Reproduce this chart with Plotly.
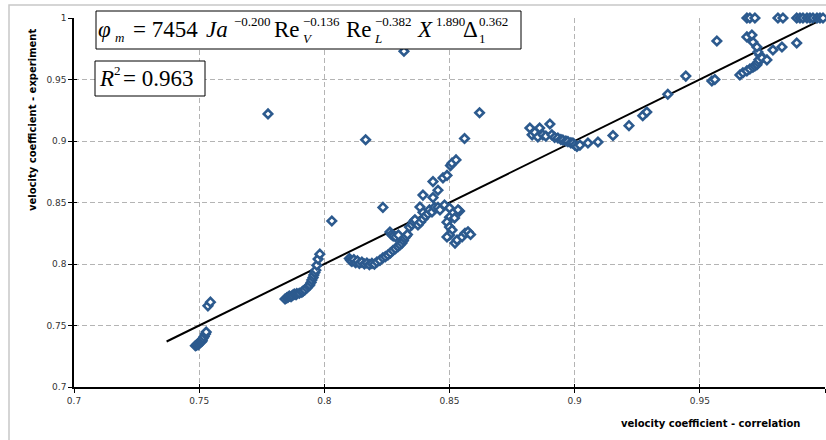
import plotly.graph_objects as go

# ---------------- data ----------------
x_corr = [
    # outliers
    0.7775, 0.8165, 0.8318, 0.8030, 0.8234,
    # cluster near 0.75
    0.7485, 0.7490, 0.7493, 0.7497, 0.7500, 0.7505, 0.7510, 0.7512, 0.7515, 0.7520, 0.7525, 0.7528, 0.7535, 0.7545,
    # lower curve 0.784-0.798
    0.7843, 0.7850, 0.7855, 0.7860, 0.7867, 0.7873, 0.7880, 0.7887, 0.7890, 0.7900, 0.7910, 0.7915, 0.7922,
    0.7930, 0.7937, 0.7942, 0.7947, 0.7950, 0.7955, 0.7958, 0.7962, 0.7966, 0.7970, 0.7975, 0.7982,
    # middle band 0.81-0.835
    0.8100, 0.8105, 0.8110, 0.8118, 0.8125, 0.8132, 0.8140, 0.8150, 0.8160, 0.8170, 0.8180, 0.8190, 0.8200,
    0.8210, 0.8222, 0.8234, 0.8244, 0.8254, 0.8264, 0.8274, 0.8284, 0.8294, 0.8302, 0.8310, 0.8316, 0.8320,
    0.8326, 0.8332,
    0.8262, 0.8268, 0.8275, 0.8285, 0.8296,
    # central cluster 0.834-0.86
    0.8340, 0.8350, 0.8356, 0.8362, 0.8374, 0.8384, 0.8394, 0.8394, 0.8404, 0.8414, 0.8382, 0.8394, 0.8420,
    0.8430, 0.8434, 0.8434, 0.8440, 0.8454, 0.8454, 0.8462, 0.8474, 0.8480, 0.8490, 0.8500, 0.8504, 0.8510,
    0.8526, 0.8540, 0.8534,
    0.8500, 0.8520, 0.8490, 0.8500, 0.8510, 0.8500, 0.8490, 0.8522, 0.8530, 0.8550, 0.8562, 0.8574, 0.8584,
    0.8560, 0.8620,
    # cluster 0.88-0.93
    0.8821, 0.8830, 0.8841, 0.8853, 0.8860, 0.8873, 0.8885, 0.8901, 0.8909, 0.8920, 0.8933, 0.8945, 0.8953,
    0.8965, 0.8973, 0.8985, 0.8993, 0.9001, 0.9009, 0.9021, 0.9053, 0.9093, 0.9153, 0.9217, 0.9272, 0.9288,
    # upper cluster 0.93-1.0
    0.9372, 0.9444, 0.9548, 0.9560, 0.9568,
    0.9660, 0.9672, 0.9688, 0.9700, 0.9712, 0.9720, 0.9728, 0.9732, 0.9736, 0.9740, 0.9748, 0.9732, 0.9728,
    0.9712, 0.9688, 0.9708, 0.9768, 0.9792, 0.9828, 0.9887,
    0.9688, 0.9700, 0.9720, 0.9812, 0.9832, 0.9887, 0.9900, 0.9912, 0.9928, 0.9940, 0.9952, 0.9968, 0.9980,
    0.9992,
]
y_exp = [
    0.922, 0.901, 0.973, 0.835, 0.846,
    0.7335, 0.7340, 0.7350, 0.7345, 0.7360, 0.7365, 0.7370, 0.7380, 0.7395, 0.7410, 0.7430, 0.7447, 0.7660, 0.7690,
    0.7715, 0.7725, 0.7730, 0.7740, 0.7735, 0.7745, 0.7755, 0.7750, 0.7760, 0.7762, 0.7770, 0.7780, 0.7790,
    0.7805, 0.7820, 0.7830, 0.7850, 0.7870, 0.7890, 0.7910, 0.7930, 0.7950, 0.7990, 0.8040, 0.8080,
    0.8045, 0.8030, 0.8020, 0.8035, 0.8010, 0.8025, 0.8005, 0.8015, 0.8000, 0.8008, 0.7995, 0.8005, 0.7998,
    0.8016, 0.8030, 0.8050, 0.8060, 0.8073, 0.8090, 0.8110, 0.8125, 0.8140, 0.8155, 0.8170, 0.8190, 0.8210,
    0.8225, 0.8240,
    0.8260, 0.8240, 0.8228, 0.8220, 0.8235,
    0.8300, 0.8320, 0.8345, 0.8360, 0.8317, 0.8340, 0.8366, 0.8420, 0.8390, 0.8410, 0.8463, 0.8560, 0.8440,
    0.8423, 0.8540, 0.8670, 0.8460, 0.8600, 0.8460, 0.8440, 0.8700, 0.8480, 0.8720, 0.8455, 0.8800, 0.8820,
    0.8846, 0.8430, 0.8440,
    0.8380, 0.8374, 0.8340, 0.8300, 0.8276, 0.8236, 0.8220, 0.8170, 0.8195, 0.8220, 0.8250, 0.8262, 0.8240,
    0.9020, 0.9230,
    0.9106, 0.9050, 0.9070, 0.9033, 0.9106, 0.9050, 0.9040, 0.9138, 0.9050, 0.9030, 0.9024, 0.9012, 0.9008,
    0.9000, 0.8995, 0.8985, 0.8984, 0.8967, 0.8955, 0.8967, 0.8984, 0.8992, 0.9045, 0.9125, 0.9205, 0.9236,
    0.9380, 0.9528, 0.9488, 0.9500, 0.9813,
    0.9537, 0.9555, 0.9570, 0.9585, 0.9600, 0.9610, 0.9620, 0.9640, 0.9660, 0.9700, 0.9675, 0.9724, 0.9764,
    0.9805, 0.9846, 0.9862, 0.9659, 0.9740, 0.9764, 0.9797,
    1.0, 1.0, 1.0, 1.0, 1.0, 1.0, 1.0, 1.0, 1.0, 1.0, 1.0, 1.0, 1.0,
    1.0,
]
fit_x = [0.737, 0.997]
fit_y = [0.737, 0.997]

tick_vals = [0.7, 0.75, 0.8, 0.85, 0.9, 0.95, 1.0]
tick_text = ["0.7", "0.75", "0.8", "0.85", "0.9", "0.95", "1"]

x_title = "velocity coefficient - correlation"
y_title = "velocity coefficient - experiment"

# ---------------- layout geometry ----------------
W, H = 826, 440
L, R, T, B = 74, 1, 18, 53
PW, PH = W - L - R, H - T - B


def px(x):
    return (x - L) / PW


def py(y):
    return (H - B - y) / PH


fig = go.Figure()
fig.add_trace(go.Scatter(
    x=fit_x, y=fit_y, mode="lines",
    line=dict(color="black", width=2), hoverinfo="skip", showlegend=False,
))
fig.add_trace(go.Scatter(
    x=x_corr, y=y_exp, mode="markers", cliponaxis=False,
    marker=dict(symbol="diamond", size=6.5, color="white",
                line=dict(color="#2c5a8e", width=2.6)),
    showlegend=False,
))
# empty trace so the overlay axes (inner half of the crossing ticks) are drawn
fig.add_trace(go.Scatter(x=[], y=[], xaxis="x2", yaxis="y2", showlegend=False, hoverinfo="skip"))

axis_common = dict(
    range=[0.7, 1.0], tickvals=tick_vals, ticktext=tick_text,
    showgrid=True, gridcolor="#b4b4b4", gridwidth=1, griddash="5px,3px",
    showline=True, linecolor="black", linewidth=1.5,
    ticks="outside", ticklen=4, tickcolor="black", tickwidth=1.2,
    tickfont=dict(family="DejaVu Sans", size=9, color="#333333"),
    zeroline=False, fixedrange=True,
)
overlay_common = dict(
    range=[0.7, 1.0], tickvals=tick_vals, showticklabels=False, showgrid=False,
    showline=False, ticks="inside", ticklen=3, tickcolor="black", tickwidth=1.2,
    zeroline=False, fixedrange=True,
)

serif = "Liberation Serif"
BIG, SMALL = 23, 13
ann = []


def piece(text, x, yc, size):
    ann.append(dict(text=text, x=px(x), y=py(yc), xref="paper", yref="paper",
                    xanchor="left", yanchor="middle", showarrow=False,
                    font=dict(family=serif, size=size, color="black")))


# equation
piece("<i>φ</i>", 96, 30, BIG)
piece("<i>m</i>", 113, 38, SMALL)
piece("= 7454", 131, 30, BIG)
piece("<i>Ja</i>", 204, 30, BIG)
piece("−0.200", 232, 21, SMALL)
piece("Re", 272, 30, BIG)
piece("<i>V</i>", 301, 39, SMALL)
piece("−0.136", 301, 21, SMALL)
piece("Re", 344, 30, BIG)
piece("<i>L</i>", 372, 39, SMALL)
piece("−0.382", 373, 21, SMALL)
piece("<i>X</i>", 415, 30, BIG)
piece("1.890", 434, 21, SMALL)
piece("Δ", 461, 30, BIG)
piece("1", 477, 39, SMALL)
piece("0.362", 477, 21, SMALL)
# R^2
piece("<i>R</i>", 97, 78, BIG)
piece("2", 112, 70, SMALL)
piece("= 0.963", 121, 78, BIG)

# axis titles
ann.append(dict(text="<b>" + x_title + "</b>", x=px(710), y=py(423), xref="paper", yref="paper",
                xanchor="center", yanchor="middle", showarrow=False,
                font=dict(family="DejaVu Sans", size=10, color="black")))
ann.append(dict(text="<b>" + y_title + "</b>", x=px(33), y=py(120), xref="paper", yref="paper",
                xanchor="center", yanchor="middle", showarrow=False, textangle=-90,
                font=dict(family="DejaVu Sans", size=10, color="black")))

shapes = [
    dict(type="rect", xref="paper", yref="paper", x0=px(9), x1=px(840), y0=py(5), y1=py(460),
         line=dict(color="#c8c8c8", width=1.5), layer="below"),
    dict(type="rect", xref="paper", yref="paper", x0=px(96), x1=px(521), y0=py(11), y1=py(49),
         line=dict(color="black", width=1), fillcolor="white", layer="above"),
    dict(type="rect", xref="paper", yref="paper", x0=px(95), x1=px(205), y0=py(61), y1=py(96),
         line=dict(color="black", width=1), fillcolor="white", layer="above"),
]

fig.update_layout(
    width=W, height=H, margin=dict(l=L, r=R, t=T, b=B, autoexpand=False),
    paper_bgcolor="white", plot_bgcolor="white",
    xaxis=axis_common, yaxis=axis_common,
    xaxis2=dict(overlaying="x", anchor="y", **overlay_common),
    yaxis2=dict(overlaying="y", anchor="x", **overlay_common),
    annotations=ann, shapes=shapes, showlegend=False,
)

fig.write_html("out.html")
